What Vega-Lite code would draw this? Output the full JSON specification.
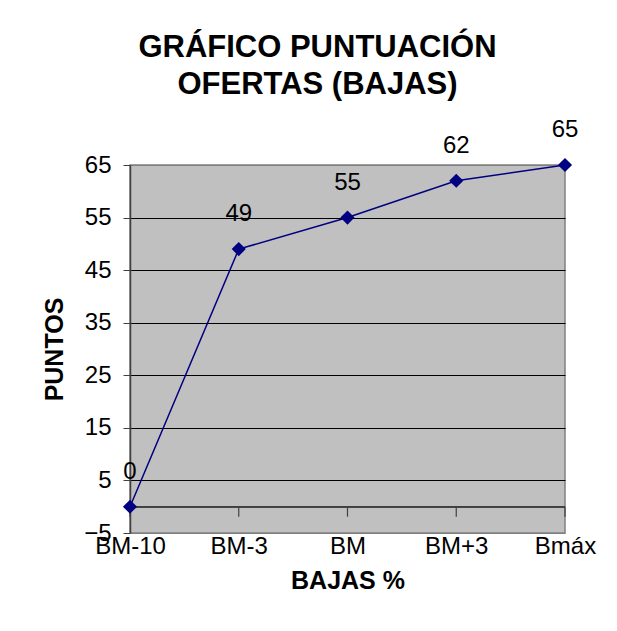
{
  "$schema": "https://vega.github.io/schema/vega-lite/v6.json",
  "autosize": {"type": "none"},
  "width": 435,
  "height": 368,
  "padding": {"left": 130, "top": 165, "right": 52, "bottom": 98},
  "background": "white",
  "config": {
    "font": "Liberation Sans",
    "view": {"fill": "#C0C0C0", "stroke": "#808080", "strokeWidth": 1.5}
  },
  "title": {
    "text": ["GRÁFICO PUNTUACIÓN", "OFERTAS (BAJAS)"],
    "font": "Liberation Sans",
    "fontSize": 31,
    "fontWeight": "bold",
    "color": "black",
    "lineHeight": 37,
    "anchor": "middle",
    "frame": "group",
    "dx": -30,
    "offset": 17
  },
  "data": {
    "values": [
      {"baja": "BM-10", "puntos": 0},
      {"baja": "BM-3", "puntos": 49},
      {"baja": "BM", "puntos": 55},
      {"baja": "BM+3", "puntos": 62},
      {"baja": "Bmáx", "puntos": 65}
    ]
  },
  "encoding": {
    "x": {
      "field": "baja",
      "type": "nominal",
      "sort": null,
      "scale": {"type": "point", "padding": 0},
      "axis": {
        "title": "BAJAS %",
        "titleFont": "Liberation Sans",
        "titleFontSize": 25,
        "titleFontWeight": "bold",
        "titleColor": "black",
        "titlePadding": 10,
        "labelFont": "Liberation Sans",
        "labelFontSize": 24,
        "labelColor": "black",
        "labelAngle": 0,
        "labelPadding": 1,
        "ticks": false,
        "domain": false,
        "grid": false
      }
    },
    "y": {
      "field": "puntos",
      "type": "quantitative",
      "scale": {"domain": [-5, 65], "nice": false, "zero": false},
      "axis": {
        "title": "PUNTOS",
        "titleFont": "Liberation Sans",
        "titleFontSize": 25,
        "titleFontWeight": "bold",
        "titleColor": "black",
        "titlePadding": 16,
        "values": [-5, 5, 15, 25, 35, 45, 55, 65],
        "labelFont": "Liberation Sans",
        "labelFontSize": 24,
        "labelColor": "black",
        "labelPadding": 12,
        "tickSize": 7,
        "tickColor": "#404040",
        "domainColor": "#404040",
        "domainWidth": 1.5,
        "grid": true,
        "gridColor": {"condition": {"test": "datum.value == 65 || datum.value == -5", "value": "#808080"}, "value": "black"},
        "gridOpacity": 1,
        "gridWidth": 1.2
      }
    }
  },
  "layer": [
    {
      "mark": {"type": "rule", "color": "#404040", "strokeWidth": 1.5},
      "encoding": {"y": {"datum": 0}, "x": {"value": 0}, "x2": {"value": 435}}
    },
    {
      "mark": {"type": "rule", "color": "#404040", "strokeWidth": 1.2},
      "encoding": {"y": {"datum": 0}, "y2": {"datum": -1.9}}
    },
    {
      "mark": {"type": "line", "color": "#000080", "strokeWidth": 1.5}
    },
    {
      "mark": {"type": "point", "shape": "diamond", "filled": true, "color": "#000080", "size": 200, "opacity": 1}
    },
    {
      "mark": {"type": "text", "dy": -35, "fontSize": 24, "font": "Liberation Sans", "color": "black"},
      "encoding": {"text": {"field": "puntos", "type": "quantitative"}}
    }
  ]
}
